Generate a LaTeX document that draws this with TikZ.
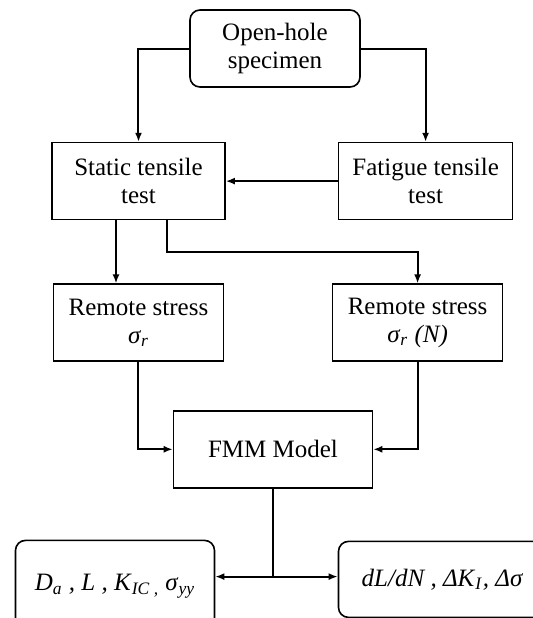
\documentclass[tikz,border=0pt]{standalone}
\usepackage{fontspec}
\setmainfont{Liberation Serif}
\usetikzlibrary{positioning, arrows.meta, calc}

\newcommand{\sub}[1]{\textsubscript{\textit{#1}}}

\begin{document}
\begin{tikzpicture}[
    font=\fontsize{12.5}{14}\selectfont,
    box/.style={
        rectangle, draw=black, line width=0.8pt, fill=white,
        minimum height=38.5pt, minimum width=86pt, align=center, inner sep=0pt
    },
    rbox/.style={
        box, rounded corners=5pt
    },
    line/.style={
        draw, line width=1pt, -{Latex[length=4.5pt,width=3.5pt]}
    }
]
\useasboundingbox (0,0) rectangle (266.5pt,-309pt);

% Top level
\node[rbox, minimum width=85pt] (specimen) at (137.5pt,-24.25pt) {Open-hole\\specimen};

% Tests
\node[box, minimum width=86.5pt, below=27pt of specimen, xshift=-68.25pt] (static) {Static tensile\\test};
\node[box, minimum width=87pt, right=56pt of static] (fatigue) {Fatigue tensile\\test};

% Remote stresses
\node[box, minimum width=85pt, below=31.5pt of static] (remoteS) {Remote stress\\\textit{σ}\sub{r}};
\node[box, minimum width=85pt, below=31.5pt of fatigue, xshift=-4pt] (remoteF) {Remote stress\\\textit{σ}\sub{r}\textit{ (N)}};

% Model
\node[box, minimum width=99.5pt, below=24pt of remoteS, xshift=67.25pt] (fmm) {FMM Model};

% Outputs
\node[rbox, minimum width=99.5pt, minimum height=46pt, below=25.5pt of fmm, xshift=-79pt] (staticout) {\textit{D}\sub{a}\textit{ , L , K}\sub{IC ,} \textit{σ}\sub{yy}};
\node[rbox, minimum width=104pt, minimum height=38pt, below=26pt of fmm, xshift=84.75pt] (fatigueout) {\textit{dL/dN , ΔK}\sub{I}\textit{, Δσ}};

\coordinate (split) at ($(static.south)!0.5!(remoteF.north)$);
\coordinate[below=44pt of fmm.south] (hub);

% Draw connections
\draw[line] (specimen.west) -| (static.north);
\draw[line] (specimen.east) -| (fatigue.north);
\draw[line] (fatigue.west) -- (static.east);
\draw[line] ([xshift=-11.25pt]static.south) -- ([xshift=-11.25pt]static.south |- remoteS.north);
\draw[line] ([xshift=14.25pt]static.south) |- (split) -| (remoteF.north);
\draw[line] (remoteS.south) |- (fmm.west);
\draw[line] (remoteF.south) |- (fmm.east);
\draw[line width=1pt] (fmm.south) -- (hub);
\draw[line] (hub) -- (hub -| staticout.east);
\draw[line] (hub) -- (hub -| fatigueout.west);

\end{tikzpicture}
\end{document}
